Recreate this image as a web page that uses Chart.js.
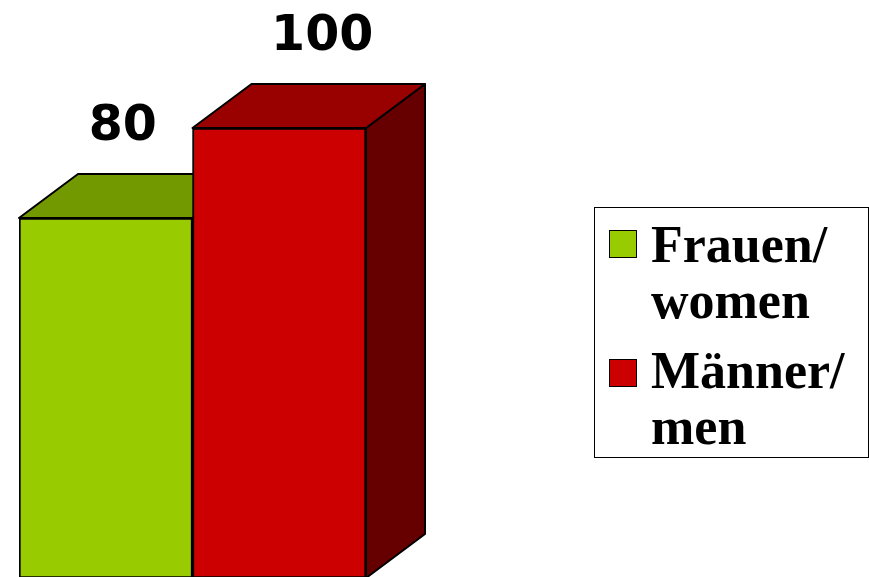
<!DOCTYPE html>
<html>
<head>
<meta charset="utf-8">
<script src="https://cdn.jsdelivr.net/npm/chart.js@4"></script>
<style>
  html, body { margin: 0; padding: 0; background: #fff; overflow: hidden; }
  #wrap { position: relative; width: 869px; height: 577px; overflow: hidden; }
  #box { position: absolute; left: 0; top: 0; width: 869px; height: 578px; }
  #legend {
    position: absolute; left: 594px; top: 207px; width: 275px; height: 251px;
    border: 1px solid #000; box-sizing: border-box;
    font-family: "Liberation Serif", serif; font-weight: bold; font-size: 52px;
    line-height: 56px; color: #000;
  }
  .item { position: relative; padding-left: 56px; }
  .item .sw { position: absolute; left: 14px; width: 26px; height: 26px; border: 1px solid #000; }
</style>
</head>
<body>
<div id="wrap">
  <div id="box"><canvas id="c"></canvas></div>
  <div id="legend"></div>
</div>
<script>
const categories = ["Frauen/ women", "Männer/ men"];
const legendLines = [["Frauen/", "women"], ["Männer/", "men"]];
const values = [80, 100];
const frontColors = ["#99cc00", "#cc0000"];
const topColors = ["#739900", "#990000"];
const sideColors = ["#4d6600", "#660000"];
const labelShift = [17, 43];

const depth = { dx: 59, dy: -44 };

const faces3d = {
  id: "faces3d",
  beforeDatasetsDraw(chart) {
    const ctx = chart.ctx;
    const meta = chart.getDatasetMeta(0);
    ctx.save();
    ctx.lineWidth = 2;
    ctx.strokeStyle = "#000";
    ctx.lineJoin = "round";
    meta.data.forEach((bar, i) => {
      const p = bar.getProps(["x", "y", "base", "width"], true);
      const l = p.x - p.width / 2, r = p.x + p.width / 2, t = p.y, b = p.base;
      // side
      ctx.beginPath();
      ctx.moveTo(r, t);
      ctx.lineTo(r + depth.dx, t + depth.dy);
      ctx.lineTo(r + depth.dx, b + depth.dy);
      ctx.lineTo(r, b);
      ctx.closePath();
      ctx.fillStyle = sideColors[i];
      ctx.fill();
      ctx.stroke();
      // top
      ctx.beginPath();
      ctx.moveTo(l, t);
      ctx.lineTo(l + depth.dx, t + depth.dy);
      ctx.lineTo(r + depth.dx, t + depth.dy);
      ctx.lineTo(r, t);
      ctx.closePath();
      ctx.fillStyle = topColors[i];
      ctx.fill();
      ctx.stroke();
    });
    ctx.restore();
  },
  afterDatasetsDraw(chart) {
    const ctx = chart.ctx;
    const meta = chart.getDatasetMeta(0);
    ctx.save();
    ctx.font = "bold 49px 'DejaVu Sans'";
    ctx.fillStyle = "#000";
    ctx.textAlign = "center";
    ctx.textBaseline = "alphabetic";
    meta.data.forEach((bar, i) => {
      ctx.fillText(String(values[i]), bar.x + labelShift[i], bar.y + depth.dy - 34);
    });
    ctx.restore();
  }
};

new Chart(document.getElementById("c"), {
  type: "bar",
  data: {
    labels: categories,
    datasets: [{
      data: values,
      backgroundColor: frontColors,
      borderColor: "#000",
      borderWidth: 2,
      borderSkipped: false,
      categoryPercentage: 1,
      barPercentage: 1
    }]
  },
  options: {
    responsive: true,
    maintainAspectRatio: false,
    animation: false,
    layout: { padding: { left: 19, right: 503, top: 128, bottom: 0 } },
    scales: {
      x: { display: false },
      y: { display: false, min: 0, max: 100 }
    },
    plugins: {
      legend: { display: false },
      tooltip: { enabled: false }
    }
  },
  plugins: [faces3d]
});

const legend = document.getElementById("legend");
const itemGap = ["9px", "14px"];
const swatchTop = ["13px", "16px"];
legendLines.forEach((lines, i) => {
  const div = document.createElement("div");
  div.className = "item";
  div.style.marginTop = itemGap[i];
  div.innerHTML = '<span class="sw" style="top:' + swatchTop[i] + ';background:' + frontColors[i] + '"></span>' + lines.join("<br>");
  legend.appendChild(div);
});
</script>
</body>
</html>
